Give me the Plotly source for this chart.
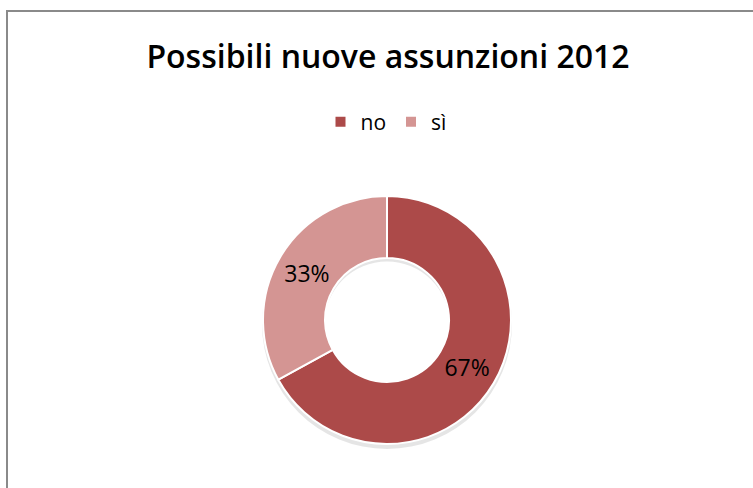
import plotly.graph_objects as go

# Data
categories = ["no", "sì"]
values = [67, 33]
slice_colors = ["#AC4A49", "#D49593"]
title_text = "Possibili nuove assunzioni 2012"

W, H = 753, 488
font_family = "'Open Sans', 'Noto Sans', sans-serif"

# Donut placement (pixels)
cx, cy, r = 387, 320, 124

def px_x(x):
    return x / W

def px_y(y):
    return 1 - y / H

fig = go.Figure()

# soft drop shadow beneath the ring
fig.add_trace(go.Pie(
    values=[1], labels=["shadow"], hole=0.5, sort=False,
    marker=dict(colors=["rgba(0,0,0,0.10)"], line=dict(width=0)),
    textinfo="none", hoverinfo="skip", showlegend=False,
    domain=dict(x=[px_x(cx - r - 1), px_x(cx + r + 1)],
                y=[px_y(cy + r + 5), px_y(cy - r + 3)]),
))

fig.add_trace(go.Pie(
    labels=categories, values=values, hole=0.5, sort=False,
    direction="clockwise", rotation=0,
    marker=dict(colors=slice_colors, line=dict(color="white", width=2)),
    textinfo="percent", textposition="inside", insidetextorientation="horizontal",
    texttemplate="%{percent:.0%}",
    textfont=dict(family=font_family, size=23, color="black"),
    domain=dict(x=[px_x(cx - r), px_x(cx + r)], y=[px_y(cy + r), px_y(cy - r)]),
))

fig.update_layout(
    width=W, height=H,
    margin=dict(l=0, r=0, t=0, b=0),
    paper_bgcolor="white", plot_bgcolor="white",
    uniformtext=dict(minsize=22, mode="show"),
    title=dict(text=title_text, x=px_x(388), xanchor="center",
               y=px_y(57), yanchor="middle", yref="container",
               font=dict(family=font_family, size=32, weight=600, color="black")),
    showlegend=True,
    legend=dict(orientation="h", x=px_x(386), xanchor="center",
                y=px_y(122), yanchor="middle",
                font=dict(family=font_family, size=21, color="black"),
                itemwidth=30, tracegroupgap=0),
    shapes=[dict(type="rect", xref="paper", yref="paper",
                 x0=px_x(7), x1=px_x(760), y0=px_y(495), y1=px_y(11),
                 line=dict(color="#8A8A8A", width=2), fillcolor="rgba(0,0,0,0)")],
)

fig.write_html("out.html")
